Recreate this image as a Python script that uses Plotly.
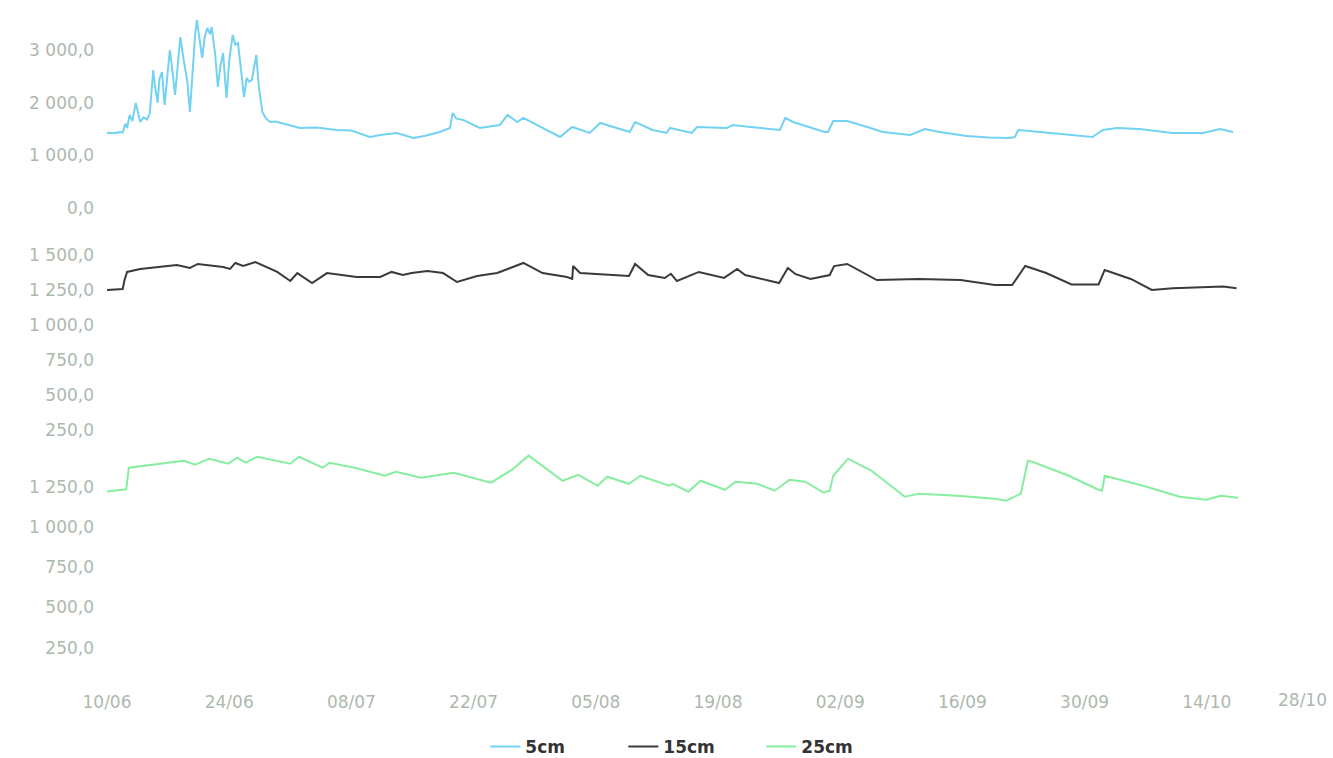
import pandas as pd
import plotly.graph_objects as go
from plotly.subplots import make_subplots

START = "2019-06-10"

# ---- data (day offsets from 10/06, values) ----
t5 = [0, 0.8, 1.5, 1.8, 2.1, 2.3, 2.6, 2.9, 3.3, 3.6, 3.8, 4.2, 4.6, 4.9, 5.1, 5.3, 5.5, 5.8,
      6.0, 6.3, 6.6, 6.9, 7.2, 7.5, 7.8, 8.1, 8.4, 8.7, 8.9, 9.2, 9.5, 9.8, 10.1, 10.3, 10.6,
      10.9, 11.2, 11.5, 11.8, 12.0, 12.4, 12.7, 13.0, 13.3, 13.5, 13.7, 14.0, 14.4, 14.7, 15.0,
      15.3, 15.7, 16.0, 16.3, 16.6, 16.9, 17.1, 17.4, 17.8, 18.2, 18.7, 19.3, 19.8, 20.5, 22.1,
      24.0, 26.3, 28.0, 30.1, 31.5, 33.2, 35.1, 36.5, 38.1, 39.3, 39.6, 40.0, 40.8, 42.7, 45.0,
      45.9, 47.0, 47.7, 49.9, 51.9, 53.3, 55.3, 56.5, 58.4, 59.9, 60.5, 62.5, 64.1, 64.5, 67.0,
      67.6, 71.0, 71.7, 73.7, 75.0, 77.1, 77.7, 78.6, 82.2, 82.6, 83.2, 84.8, 87.1, 88.9, 92.0,
      93.7, 95.4, 98.5, 101.0, 103.4, 104.0, 104.4, 106.9, 110.7, 112.9, 114.1, 115.7, 118.3,
      122.1, 125.6, 127.5, 129.0]
v5 = [1430, 1420, 1440, 1430, 1600, 1520, 1766, 1650, 1993, 1750, 1633, 1720, 1680, 1803, 2250,
      2620, 2300, 2000, 2450, 2580, 1955, 2500, 3000, 2600, 2145, 2700, 3246, 2900, 2715, 2400,
      1823, 2600, 3300, 3570, 3200, 2848, 3250, 3417, 3300, 3436, 2900, 2297, 2700, 2943, 2500,
      2088, 2800, 3285, 3100, 3133, 2700, 2107, 2468, 2400, 2430, 2700, 2905, 2300, 1823, 1700,
      1633, 1640, 1614, 1590, 1519, 1530, 1481, 1470, 1348, 1390, 1424, 1329, 1370, 1443, 1519,
      1804, 1700, 1671, 1519, 1576, 1766, 1633, 1709, 1519, 1348, 1538, 1424, 1614, 1519, 1443,
      1633, 1481, 1424, 1519, 1424, 1538, 1519, 1576, 1538, 1520, 1481, 1709, 1633, 1443, 1443,
      1652, 1652, 1538, 1443, 1386, 1500, 1443, 1367, 1340, 1329, 1348, 1481, 1443, 1386, 1348,
      1481, 1519, 1500, 1424, 1424, 1500, 1443]

t15 = [0, 1.8, 2.0, 2.3, 3.8, 5.7, 8.0, 9.5, 10.4, 13.3, 14.1, 14.7, 15.6, 17.0, 19.5, 21.0, 21.8,
       23.5, 25.2, 28.6, 31.3, 32.6, 33.9, 34.9, 36.7, 38.5, 40.1, 42.4, 44.7, 46.2, 47.7, 49.9,
       52.7, 53.3, 53.4, 54.2, 56.8, 59.8, 60.5, 62.0, 63.9, 64.6, 65.3, 67.8, 70.7, 72.2, 73.1,
       77.0, 78.0, 78.9, 80.6, 82.8, 83.3, 84.8, 88.2, 93.0, 97.8, 101.7, 103.7, 105.2, 107.6,
       110.5, 113.6, 114.3, 117.3, 119.7, 122.1, 127.0, 127.9, 129.4]
v15 = [1250, 1257, 1320, 1379, 1400, 1414, 1429, 1407, 1436, 1414, 1400, 1443, 1421, 1450, 1379,
       1314, 1371, 1300, 1371, 1343, 1343, 1379, 1357, 1371, 1386, 1371, 1307, 1350, 1371, 1407,
       1443, 1371, 1343, 1329, 1421, 1371, 1363, 1350, 1436, 1357, 1336, 1366, 1314, 1379, 1336,
       1400, 1357, 1300, 1407, 1363, 1329, 1357, 1421, 1436, 1321, 1329, 1321, 1285, 1285, 1421,
       1371, 1290, 1290, 1393, 1329, 1250, 1262, 1275, 1275, 1262]

t25 = [0, 2.2, 2.5, 5.5, 8.8, 10.1, 11.7, 13.9, 14.9, 15.9, 17.2, 21.0, 22.0, 24.7, 25.5, 28.4,
       31.8, 33.1, 36.0, 39.7, 44.0, 46.4, 48.3, 52.2, 54.0, 56.2, 57.3, 59.8, 61.1, 64.4, 64.8,
       66.6, 68.0, 70.8, 72.0, 74.5, 76.5, 78.2, 80.0, 82.1, 82.8, 83.2, 84.9, 87.6, 91.4, 93.1,
       97.4, 101.7, 103.0, 104.7, 105.5, 106.0, 110.2, 113.6, 114.0, 114.3, 118.7, 122.9, 125.9,
       127.6, 129.6]
v25 = [1220, 1234, 1368, 1387, 1411, 1387, 1424, 1393, 1430, 1399, 1436, 1393, 1436, 1368, 1399,
       1368, 1318, 1343, 1306, 1337, 1275, 1355, 1443, 1287, 1324, 1256, 1312, 1268, 1318, 1256,
       1268, 1219, 1287, 1231, 1281, 1268, 1225, 1293, 1281, 1213, 1225, 1318, 1424, 1349, 1188,
       1207, 1194, 1176, 1163, 1207, 1411, 1405, 1318, 1231, 1225, 1318, 1256, 1188, 1169, 1194,
       1181]

x_ticks = ["2019-06-10", "2019-06-24", "2019-07-08", "2019-07-22", "2019-08-05", "2019-08-19",
           "2019-09-02", "2019-09-16", "2019-09-30", "2019-10-14"]
x_end = "2019-10-28"

ticks_top = [0, 1000, 2000, 3000]
ticks_mid = [250, 500, 750, 1000, 1250, 1500]
ticks_bot = [250, 500, 750, 1000, 1250]

names = ["5cm", "15cm", "25cm"]
colors = ["#72d2f2", "#3a3a3a", "#88ee9f"]


def to_dates(t):
    return pd.Timestamp(START) + pd.to_timedelta(t, unit="D")


fig = make_subplots(rows=3, cols=1, shared_xaxes=True)
series = [(t5, v5), (t15, v15), (t25, v25)]
for i, (t, v) in enumerate(series):
    fig.add_trace(go.Scatter(x=to_dates(t), y=v, mode="lines", name=names[i],
                             line=dict(color=colors[i], width=2)), row=i + 1, col=1)

tick_font = dict(family="DejaVu Sans", size=17, color="#adb8ad")

# pixel layout: plot area from y=10 to y=688 (height 678)
def frac(p):
    return (688 - p) / 678

fig.update_layout(
    width=1333, height=758,
    margin=dict(l=107, r=4, t=10, b=70, autoexpand=False),
    paper_bgcolor="white", plot_bgcolor="white",
    separators=", ",
    showlegend=True,
    legend=dict(orientation="h", x=0.479, xanchor="center", y=frac(747), yanchor="middle",
                font=dict(family="DejaVu Sans", size=17, color="#333333", weight="bold"),
                itemwidth=30, entrywidth=93, entrywidthmode="pixels"),
    yaxis=dict(domain=[frac(230), frac(12)], range=[-418, 3721], tickvals=ticks_top),
    yaxis2=dict(domain=[frac(466), frac(240)], range=[-7, 1607], tickvals=ticks_mid),
    yaxis3=dict(domain=[frac(688), frac(450)], range=[0, 1478], tickvals=ticks_bot),
)
for ax in ["yaxis", "yaxis2", "yaxis3"]:
    fig.layout[ax].update(showgrid=False, zeroline=False, showline=False, ticks="",
                          tickformat=",.1f", tickfont=tick_font, ticklabelstandoff=12,
                          automargin=False)
for ax in ["xaxis", "xaxis2", "xaxis3"]:
    fig.layout[ax].update(showgrid=False, zeroline=False, showline=False, ticks="",
                          range=[START, x_end], tickvals=x_ticks, tickformat="%d/%m",
                          tickfont=tick_font, ticklabelstandoff=2, automargin=False)
fig.layout.xaxis.update(showticklabels=False)
fig.layout.xaxis2.update(showticklabels=False)

fig.add_annotation(x=1, xref="paper", y=0, yref="y3", yshift=-12, text="28/10",
                   showarrow=False, xanchor="right", yanchor="middle", font=tick_font)

fig.write_html("out.html", config={"displayModeBar": False},
               post_script="document.body.style.margin='0';document.body.style.overflow='hidden';")
